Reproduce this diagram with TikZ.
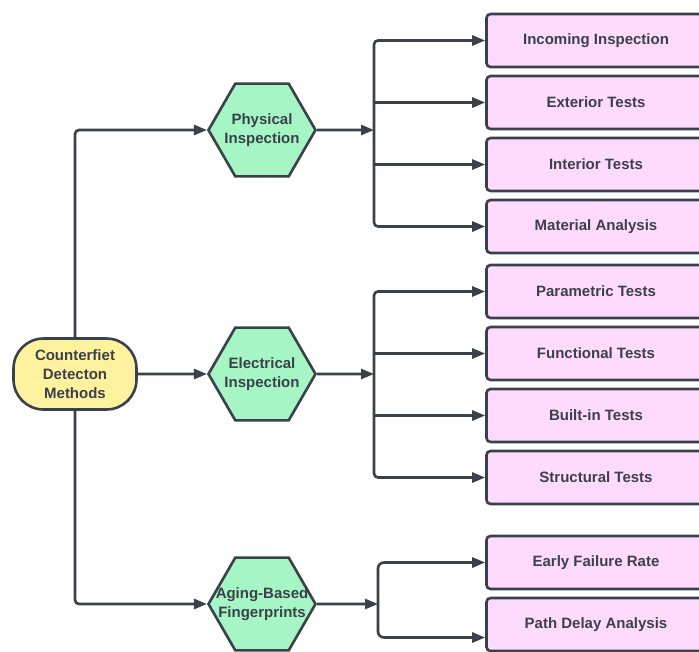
\documentclass[tikz,border=0pt]{standalone}
\usepackage{fontspec}
\setmainfont{Liberation Sans}
\usetikzlibrary{shapes.geometric,arrows.meta}
\definecolor{inkgray}{RGB}{58,65,74}
\definecolor{rootyellow}{RGB}{255,242,158}
\definecolor{hexgreen}{RGB}{166,245,197}
\definecolor{testpink}{RGB}{255,218,255}
\newcommand{\hexline}[1]{\makebox[0pt]{#1}}

\begin{document}
\begin{tikzpicture}[x=1pt,y=-1pt,
    every node/.style={text=inkgray,font=\bfseries\fontsize{15}{19}\selectfont,align=center},
    rootbox/.style={rectangle,rounded corners=30pt,draw=inkgray,line width=2.6pt,fill=rootyellow,minimum width=123pt,minimum height=71pt},
    hexbox/.style={regular polygon,regular polygon sides=6,draw=inkgray,line width=2.6pt,fill=hexgreen,minimum size=107pt,inner sep=0pt},
    testbox/.style={rectangle,rounded corners=4pt,draw=inkgray,line width=2.6pt,fill=testpink,minimum width=219pt,minimum height=53pt},
    link/.style={draw=inkgray,line width=2.6pt,rounded corners=4pt,-{Triangle[length=13pt,width=10pt]}}]
\clip (0,0) rectangle (699,651);
\node[rootbox] (root) at (75,374) {Counterfiet\\Detecton\\Methods};
\node[hexbox] (phys) at (262,130) {\hexline{Physical}\\\hexline{Inspection}};
\node[hexbox] (elec) at (262,374) {\hexline{Electrical}\\\hexline{Inspection}};
\node[hexbox] (aging) at (262,604) {\hexline{Aging-Based}\\\hexline{Fingerprints}};
\node[testbox] (incoming) at (596,40.5) {Incoming Inspection};
\node[testbox] (exterior) at (596,102.5) {Exterior Tests};
\node[testbox] (interior) at (596,164.5) {Interior Tests};
\node[testbox] (material) at (596,226.5) {Material Analysis};
\node[testbox] (parametric) at (596,291.5) {Parametric Tests};
\node[testbox] (functional) at (596,353.5) {Functional Tests};
\node[testbox] (builtin) at (596,415.5) {Built-in Tests};
\node[testbox] (structural) at (596,477.5) {Structural Tests};
\node[testbox] (early) at (596,562.5) {Early Failure Rate};
\node[testbox] (pathdelay) at (596,624.5) {Path Delay Analysis};
\coordinate (physbus) at (374,130);
\coordinate (elecbus) at (374,374);
\coordinate (agingbus) at (378,604);
\draw[link] (root.north) |- (phys.west);
\draw[link] (root.east) -- (elec.west);
\draw[link] (root.south) |- (aging.west);
\draw[link] (phys.east) -- (physbus);
\draw[link] (elec.east) -- (elecbus);
\draw[link] (aging.east) -- (agingbus);
\draw[link] (physbus) |- (incoming.west);
\draw[link,sharp corners] (physbus) |- (exterior.west);
\draw[link,sharp corners] (physbus) |- (interior.west);
\draw[link] (physbus) |- (material.west);
\draw[link] (elecbus) |- (parametric.west);
\draw[link,sharp corners] (elecbus) |- (functional.west);
\draw[link,sharp corners] (elecbus) |- (builtin.west);
\draw[link] (elecbus) |- (structural.west);
\draw[link,rounded corners=6pt] (agingbus) |- (early.west);
\draw[link,rounded corners=6pt] (agingbus) |- ([yshift=-13pt]pathdelay.west);
\end{tikzpicture}
\end{document}
